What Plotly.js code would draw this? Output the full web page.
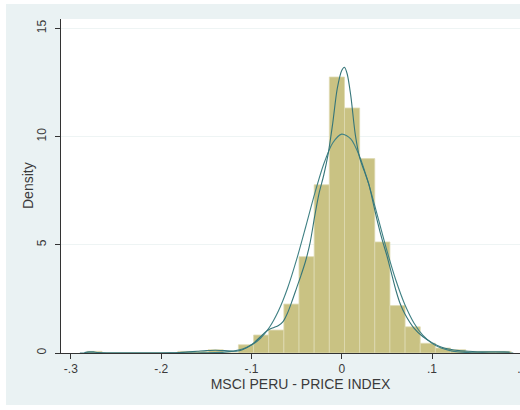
<!DOCTYPE html>
<html>
<head>
<meta charset="utf-8">
<script src="https://cdn.plot.ly/plotly-3.0.1.min.js"></script>
<style>
html, body { margin:0; padding:0; background:#ffffff; overflow:hidden; width:520px; height:410px; }
#chart { position:absolute; left:6px; top:4px; width:534px; height:401px; }
</style>
</head>
<body>
<div id="chart"></div>
<script>
// Histogram: first bin edge, bin width, density per bin
const binStart = -0.2822;
const binWidth = 0.01678;
const density = [0.075, 0, 0, 0, 0, 0, 0.075, 0.075, 0.15, 0, 0.38, 0.83, 1.06, 2.26,
                 4.45, 7.77, 12.75, 11.32, 8.98, 5.13, 2.19, 1.21, 0.45, 0.23, 0.15, 0.075, 0.075, 0.075];

// Kernel density curve
const kdeX = [-0.285,-0.28,-0.275,-0.27,-0.26,-0.25,-0.20,-0.19,-0.18,-0.17,-0.16,-0.15,-0.14,-0.13,-0.12,-0.115,
              -0.11,-0.10,-0.09,-0.085,-0.08,-0.075,-0.07,-0.065,-0.06,-0.055,-0.05,-0.045,-0.04,-0.035,-0.03,
              -0.025,-0.02,-0.015,-0.01,-0.005,0,0.003,0.006,0.01,0.015,0.02,0.025,0.03,0.035,0.04,0.045,0.05,
              0.055,0.06,0.065,0.07,0.08,0.09,0.10,0.11,0.12,0.13,0.14,0.15,0.16,0.17,0.18,0.186];
const kdeY = [0.02,0.05,0.05,0.02,0.0,0.0,0.0,0.005,0.02,0.05,0.08,0.11,0.13,0.11,0.08,0.09,
              0.15,0.38,0.75,0.95,1.10,1.18,1.27,1.45,1.85,2.4,3.0,3.6,4.25,5.1,6.3,
              7.4,8.2,9.2,10.6,12.2,13.05,13.2,12.9,11.9,10.1,9.0,8.4,7.8,6.9,6.0,5.2,4.5,
              3.7,2.9,2.25,1.8,1.15,0.75,0.48,0.28,0.17,0.11,0.08,0.06,0.05,0.06,0.05,0.04];

// Normal density curve
const normX = [-0.29,-0.20,-0.18,-0.16,-0.15,-0.14,-0.13,-0.12,-0.11,-0.10,-0.09,-0.08,-0.07,-0.06,-0.05,-0.04,-0.03,
               -0.02,-0.01,0,0.01,0.02,0.03,0.04,0.05,0.06,0.07,0.08,0.09,0.10,0.11,0.12,0.13,0.14,0.15,0.16,0.18,0.19];
const normY = [0,0,0.0003,0.0023,0.0063,0.016,0.0385,0.087,0.184,0.366,0.682,1.19,1.95,2.99,4.31,5.81,7.35,
               8.72,9.70,10.11,9.89,9.06,7.79,6.28,4.74,3.36,2.23,1.39,0.812,0.444,0.228,0.11,0.0496,0.021,0.0083,0.003,0.0003,0];

const xTickVals = [-0.3,-0.2,-0.1,0,0.1,0.2];
const xTickText = ['-.3','-.2','-.1','0','.1','.2'];
const yTickVals = [0,5,10,15];
const yTickText = ['0','5','10','15'];
const xTitle = 'MSCI PERU - PRICE INDEX';
const yTitle = 'Density';

const centers = density.map((_, i) => binStart + (i + 0.5) * binWidth);

const traces = [
  { type:'bar', x:centers, y:density, width:binWidth,
    marker:{ color:'#C9C283', line:{ color:'#DEDAB2', width:0.8 } }, hoverinfo:'skip' },
  { type:'scatter', mode:'lines', x:normX, y:normY,
    line:{ color:'#3F8084', width:1.1, shape:'spline', smoothing:0.8 }, hoverinfo:'skip' },
  { type:'scatter', mode:'lines', x:kdeX, y:kdeY,
    line:{ color:'#357579', width:1.1, shape:'spline', smoothing:0.8 }, hoverinfo:'skip' }
];

const font = { family:'"Liberation Sans", Arial, sans-serif', color:'#3a3a3a' };

const layout = {
  width:534, height:401,
  margin:{ l:55, r:0, t:15, b:52, pad:0 },
  paper_bgcolor:'#EAF2F3', plot_bgcolor:'#FFFFFF',
  showlegend:false, bargap:0,
  font: Object.assign({ size:12 }, font),
  xaxis:{
    range:[-0.3109, 0.2196], fixedrange:true,
    tickvals:xTickVals, ticktext:xTickText,
    ticks:'outside', ticklen:5, tickcolor:'#333333', tickwidth:1,
    showline:true, linecolor:'#333333', linewidth:1,
    showgrid:false, zeroline:false,
    tickfont:Object.assign({ size:12 }, font),
    title:{ text:xTitle, font:Object.assign({ size:14 }, font), standoff:2 },
    automargin:false
  },
  yaxis:{
    range:[0, 15.43], fixedrange:true,
    tickvals:yTickVals, ticktext:yTickText, tickangle:-90,
    ticks:'outside', ticklen:5, tickcolor:'#333333', tickwidth:1,
    showline:true, linecolor:'#333333', linewidth:1,
    showgrid:true, gridcolor:'#EEF4F4', gridwidth:1, zeroline:false,
    tickfont:Object.assign({ size:12 }, font),
    ticklabelstandoff:4,
    automargin:false
  },
  annotations:[{
    text:yTitle, xref:'paper', yref:'paper', x:0, y:0.5, xanchor:'center', yanchor:'middle',
    xshift:-33, textangle:-90, showarrow:false, font:Object.assign({ size:14 }, font)
  }]
};

Plotly.newPlot('chart', traces, layout, { staticPlot:true, displayModeBar:false });
</script>
</body>
</html>
